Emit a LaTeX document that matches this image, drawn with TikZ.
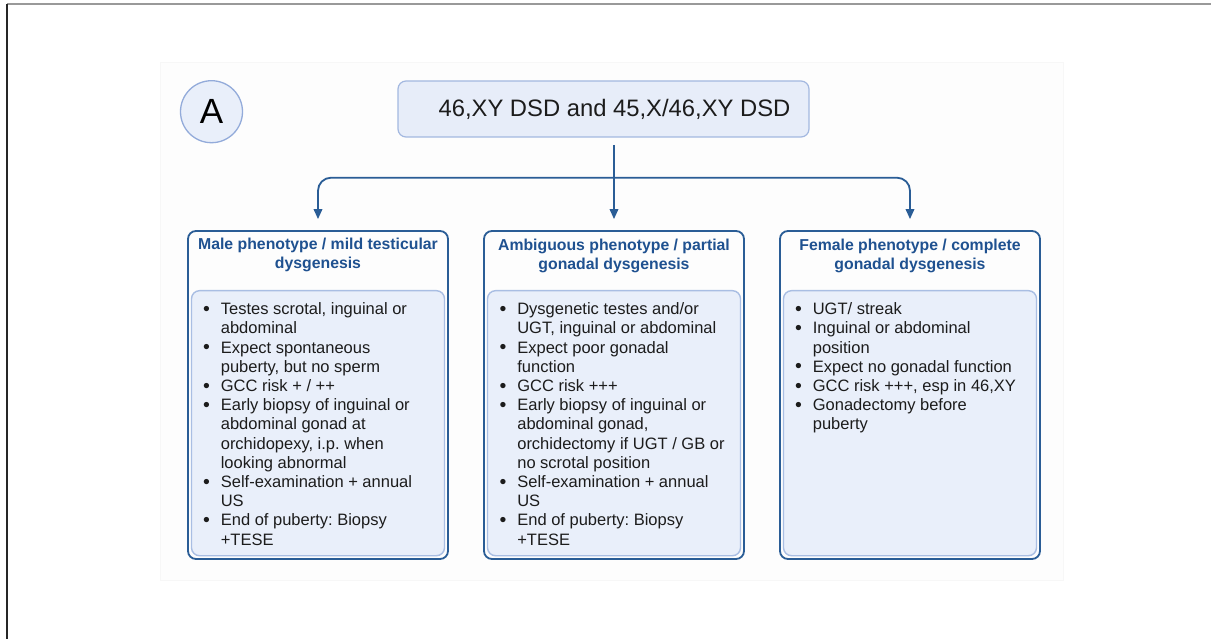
\documentclass[tikz,border=0pt]{standalone}
\usepackage{fontspec}
\setmainfont{Liberation Sans}
\usetikzlibrary{arrows.meta,positioning}
\frenchspacing

\definecolor{boxblue}{HTML}{2A5D96}
\definecolor{headblue}{HTML}{1F5190}
\definecolor{innerfill}{HTML}{E9EFFA}
\definecolor{innerline}{HTML}{A9BEE3}
\definecolor{titlefill}{HTML}{E7EDF9}
\definecolor{titleline}{HTML}{A3B8E0}
\definecolor{badgeline}{HTML}{93ABDA}
\definecolor{textblack}{HTML}{1C1C1C}

\newcommand{\bul}{\raisebox{-0.6pt}{\fontsize{19.5}{19.2}\selectfont\textbullet}}

\begin{document}
\begin{tikzpicture}[x=1pt, y=-1pt,
    outer/.style = {draw=boxblue, line width=1.8pt, rounded corners=8pt, minimum width=260pt, minimum height=328pt},
    inner/.style = {draw=innerline, fill=innerfill, line width=1.4pt, rounded corners=8pt, minimum width=253pt, minimum height=265pt},
    head/.style = {align=center, text=headblue, inner sep=0pt, font=\bfseries\fontsize{15.8}{19}\selectfont},
    items/.style = {inner sep=0pt, text=textblack, font=\fontsize{16.5}{19.2}\selectfont},
    title/.style = {draw=titleline, fill=titlefill, line width=1.2pt, rounded corners=8pt, minimum width=411pt, minimum height=56pt, text=textblack, font=\fontsize{23.8}{28}\selectfont},
    badge/.style = {circle, draw=badgeline, fill=innerfill, line width=1.3pt, minimum size=62pt, inner sep=0pt, font=\fontsize{35}{40}\selectfont},
    link/.style = {draw=boxblue, line width=1.8pt, -{Triangle[length=10pt,width=8.5pt]}}]

    \useasboundingbox (0,0) rectangle (1211,639);
    % frame and panel
    \draw[gray!80, line width=1.2pt] (7,4) -- (1211,4);
    \draw[black!85, line width=1.2pt] (7,4) -- (7,639);
    \filldraw[fill=black!0.6, draw=black!3, line width=0.5pt] (160,62) rectangle (1063,580);

    \node[badge] (badge) at (211.5,111.7) {A};
    \node[title] (title) at (603.5,109) {\hspace*{22pt}46,XY DSD and 45,X/46,XY DSD};

    % three columns
    \node[outer] (male) at (318,395) {};
    \node[outer] (amb) at (614,395) {};
    \node[outer] (fem) at (910,395) {};

    \node[inner] (minner) [above=3.5pt of male.south] {};
    \node[inner] (ainner) [above=3.5pt of amb.south] {};
    \node[inner] (finner) [above=3.5pt of fem.south] {};

    \node[head] (mhead) [below=8pt of male.north] {Male phenotype / mild testicular\\dysgenesis};
    \node[head] (ahead) [below=8.5pt of amb.north] {Ambiguous phenotype / partial\\gonadal dysgenesis};
    \node[head] (fhead) [below=9pt of fem.north] {Female phenotype / complete\\gonadal dysgenesis};

    \node[items] (mlist) [below right=11pt and 12pt of minner.north west, anchor=north west] {%
        \begin{tabular}{@{}l@{\hspace{11pt}}l@{}}
        \bul & Testes scrotal, inguinal or\\
             & abdominal\\
        \bul & Expect spontaneous\\
             & puberty, but no sperm\\
        \bul & GCC risk + / ++\\
        \bul & Early biopsy of inguinal or\\
             & abdominal gonad at\\
             & orchidopexy, i.p. when\\
             & looking abnormal\\
        \bul & Self-examination + annual\\
             & US\\
        \bul & End of puberty: Biopsy\\
             & +TESE
        \end{tabular}};
    \node[items] (alist) [below right=11pt and 12.5pt of ainner.north west, anchor=north west] {%
        \begin{tabular}{@{}l@{\hspace{11pt}}l@{}}
        \bul & Dysgenetic testes and/or\\
             & UGT, inguinal or abdominal\\
        \bul & Expect poor gonadal\\
             & function\\
        \bul & GCC risk +++\\
        \bul & Early biopsy of inguinal or\\
             & abdominal gonad,\\
             & orchidectomy if UGT / GB or\\
             & no scrotal position\\
        \bul & Self-examination + annual\\
             & US\\
        \bul & End of puberty: Biopsy\\
             & +TESE
        \end{tabular}};
    \node[items] (flist) [below right=11pt and 12pt of finner.north west, anchor=north west] {%
        \begin{tabular}{@{}l@{\hspace{11pt}}l@{}}
        \bul & UGT/ streak\\
        \bul & Inguinal or abdominal\\
             & position\\
        \bul & Expect no gonadal function\\
        \bul & GCC risk +++, esp in 46,XY\\
        \bul & Gonadectomy before\\
             & puberty
        \end{tabular}};

    % connectors
    \coordinate (start) at (614,145);
    \coordinate (fork) at (614,177.7);
    \draw[link] (start) -- ([yshift=11pt]amb.north);
    \draw[link, rounded corners=13pt] (fork) -| ([yshift=11pt]male.north);
    \draw[link, rounded corners=13pt] (fork) -| ([yshift=11pt]fem.north);
\end{tikzpicture}
\end{document}
